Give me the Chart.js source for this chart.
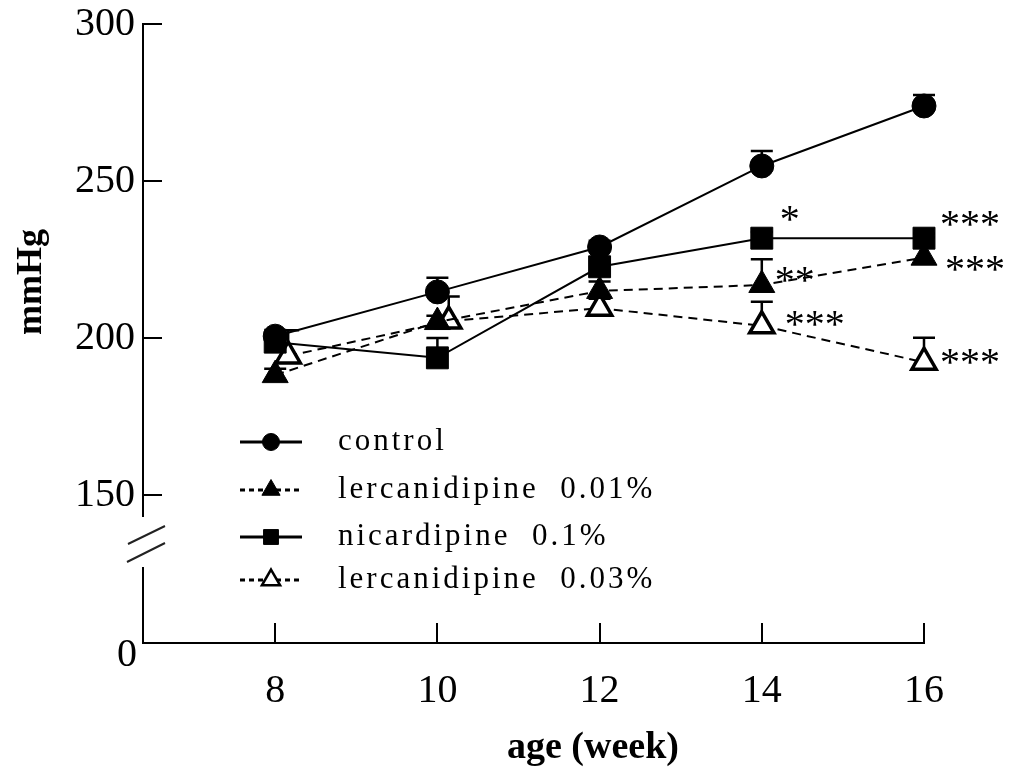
<!DOCTYPE html>
<html>
<head>
<meta charset="utf-8">
<title>Blood pressure by age</title>
<script src="https://cdn.jsdelivr.net/npm/chart.js"></script>
<style>
  html, body { margin: 0; padding: 0; background: #fff; }
  #wrap { width: 1011px; height: 771px; }
</style>
</head>
<body>
<div id="wrap"><canvas id="bp-chart"></canvas></div>
<script>
// values (mmHg, mean and one-sided SEM)
const weeks = [8, 10, 12, 14, 16];
// open triangles sit a bit to the right of the others at 8 and 10 weeks
const weeksLerc003 = [8.16, 10.14, 12, 14, 16];

const controlMean = [200.6, 214.7, 229.0, 254.8, 273.9];
const controlSem = [2.0, 4.5, 2.0, 4.8, 3.5];
const lerc001Mean = [188.2, 205.1, 215.0, 216.9, 225.6];
const lerc001Sem = [2.0, 2.0, 3.0, 8.2, 6.4];
const nicMean = [198.7, 193.7, 222.7, 231.8, 231.8];
const nicSem = [2.0, 6.3, 5.5, 2.0, 1.5];
const lerc003Mean = [194.3, 205.4, 209.5, 203.9, 192.3];
const lerc003Sem = [8.2, 7.8, 3.0, 7.7, 7.8];

// significance marks per point
const lerc001Sig = ["", "", "", "**", "***"];
const nicSig = ["", "", "", "*", "***"];
const lerc003Sig = ["", "", "", "***", "***"];

const upperTicks = [150, 200, 250, 300];
const lowerTicks = [0];
const xTicks = [8, 10, 12, 14, 16];

const seriesNames = [
  "control",
  "lercanidipine  0.01%",
  "nicardipine  0.1%",
  "lercanidipine  0.03%",
];

const FONT = '"Liberation Serif", "Times New Roman", serif';

// where the star labels go, relative to their point: "dataset-point": [dx, dy]
const sigOffsets = {
  "2-3": [18, -26],
  "2-4": [16, -21],
  "1-3": [13, -12],
  "1-4": [21, 5],
  "3-3": [23, -8],
  "3-4": [16, -7],
};

const toPoints = (xs, ys) => xs.map((x, i) => ({ x: x, y: ys[i] }));

function drawMarker(ctx, style, x, y, r) {
  ctx.beginPath();
  if (style === "circle") {
    ctx.arc(x, y, r, 0, Math.PI * 2);
  } else if (style === "rect") {
    const h = r * Math.SQRT1_2;
    ctx.rect(x - h, y - h, 2 * h, 2 * h);
  } else {
    ctx.moveTo(x, y - r);
    ctx.lineTo(x + r * 0.866, y + r * 0.5);
    ctx.lineTo(x - r * 0.866, y + r * 0.5);
    ctx.closePath();
  }
}

// one-sided error bars, drawn under the markers
const errorBars = {
  id: "errorBars",
  beforeDatasetsDraw(chart) {
    const ctx = chart.ctx;
    const yScale = chart.scales.y;
    ctx.save();
    ctx.strokeStyle = "#000";
    ctx.lineWidth = 2.5;
    chart.data.datasets.forEach((ds, i) => {
      const meta = chart.getDatasetMeta(i);
      meta.data.forEach((pt, j) => {
        const top = yScale.getPixelForValue(ds.data[j].y + ds.sem[j]);
        ctx.beginPath();
        ctx.moveTo(pt.x, pt.y);
        ctx.lineTo(pt.x, top);
        ctx.moveTo(pt.x - 11, top);
        ctx.lineTo(pt.x + 11, top);
        ctx.stroke();
      });
    });
    ctx.restore();
  },
};

// stars, legend, x title and the axis break
const decorations = {
  id: "decorations",
  afterDatasetsDraw(chart) {
    const ctx = chart.ctx;
    const size = 40;
    ctx.save();
    ctx.fillStyle = "#000";
    ctx.font = size + "px " + FONT;
    ctx.letterSpacing = "0px";
    ctx.textAlign = "left";
    ctx.textBaseline = "alphabetic";
    chart.data.datasets.forEach((ds, i) => {
      if (!ds.sig) return;
      const meta = chart.getDatasetMeta(i);
      ds.sig.forEach((txt, j) => {
        if (!txt) return;
        const off = sigOffsets[i + "-" + j] || [18, -10];
        const pt = meta.data[j];
        // asterisks sit high in the em box, so push the baseline down
        ctx.fillText(txt, pt.x + off[0], pt.y + off[1] + size * 0.49);
      });
    });
    ctx.restore();
  },
  afterDraw(chart) {
    const ctx = chart.ctx;
    const area = chart.chartArea;
    const split = chart.scales.y.bottom;

    // legend
    const rows = [442, 490, 537, 580];
    ctx.save();
    chart.data.datasets.forEach((ds, i) => {
      const y = rows[i];
      ctx.strokeStyle = "#000";
      ctx.lineWidth = 3;
      ctx.setLineDash(ds.borderDash && ds.borderDash.length ? [5, 4] : []);
      ctx.beginPath();
      ctx.moveTo(240, y);
      ctx.lineTo(302, y);
      ctx.stroke();
      ctx.setLineDash([]);
      const r = ds.pointStyle === "circle" ? 8.5 : 10.5;
      drawMarker(ctx, ds.pointStyle, 271, y, r);
      ctx.fillStyle = ds.pointBackgroundColor;
      ctx.fill();
      ctx.lineWidth = ds.pointBorderWidth > 2 ? 2.5 : 1;
      ctx.stroke();

      ctx.fillStyle = "#000";
      ctx.font = "31px " + FONT;
      ctx.letterSpacing = "3px";
      ctx.textAlign = "left";
      ctx.textBaseline = "middle";
      ctx.fillText(seriesNames[i], 338, y);
    });
    ctx.restore();

    // x axis title
    ctx.save();
    ctx.fillStyle = "#000";
    ctx.font = "bold 38px " + FONT;
    ctx.textAlign = "center";
    ctx.textBaseline = "middle";
    ctx.fillText("age (week)", 593, 748);
    ctx.restore();

    // axis break
    ctx.save();
    ctx.fillStyle = "#fff";
    ctx.fillRect(area.left - 5, split - 23, 10, 50);
    ctx.strokeStyle = "#222";
    ctx.lineWidth = 2;
    ctx.beginPath();
    ctx.moveTo(area.left - 15, split + 4);
    ctx.lineTo(area.left + 22, split - 14);
    ctx.moveTo(area.left - 16, split + 22);
    ctx.lineTo(area.left + 22, split + 3);
    ctx.stroke();
    ctx.restore();
  },
};

const fixLeft = (scale) => {
  scale.width = 143;
  scale.paddingTop = 0;
  scale.paddingBottom = 0;
};

const ctx = document.getElementById("bp-chart").getContext("2d");

new Chart(ctx, {
  type: "line",
  data: {
    datasets: [
      {
        label: seriesNames[0],
        data: toPoints(weeks, controlMean),
        sem: controlSem,
        borderColor: "#000",
        borderWidth: 2,
        pointStyle: "circle",
        pointRadius: 12,
        pointBackgroundColor: "#000",
        pointBorderColor: "#000",
        pointBorderWidth: 1,
        yAxisID: "y",
        clip: false,
      },
      {
        label: seriesNames[1],
        data: toPoints(weeks, lerc001Mean),
        sem: lerc001Sem,
        sig: lerc001Sig,
        borderColor: "#000",
        borderWidth: 2,
        borderDash: [9, 6],
        pointStyle: "triangle",
        pointRadius: 15,
        pointBackgroundColor: "#000",
        pointBorderColor: "#000",
        pointBorderWidth: 1,
        yAxisID: "y",
        clip: false,
      },
      {
        label: seriesNames[2],
        data: toPoints(weeks, nicMean),
        sem: nicSem,
        sig: nicSig,
        borderColor: "#000",
        borderWidth: 2,
        pointStyle: "rect",
        pointRadius: 15.5,
        pointBackgroundColor: "#000",
        pointBorderColor: "#000",
        pointBorderWidth: 1,
        yAxisID: "y",
        clip: false,
      },
      {
        label: seriesNames[3],
        data: toPoints(weeksLerc003, lerc003Mean),
        sem: lerc003Sem,
        sig: lerc003Sig,
        borderColor: "#000",
        borderWidth: 2,
        borderDash: [9, 6],
        pointStyle: "triangle",
        pointRadius: 14,
        pointBackgroundColor: "#fff",
        pointBorderColor: "#000",
        pointBorderWidth: 3.5,
        yAxisID: "y",
        clip: false,
      },
    ],
  },
  options: {
    responsive: true,
    maintainAspectRatio: false,
    animation: false,
    events: [],
    layout: { padding: { top: 24, right: 87, bottom: 0, left: 0 } },
    plugins: {
      legend: { display: false },
      tooltip: { enabled: false },
    },
    scales: {
      x: {
        type: "linear",
        min: 6.37,
        max: 16,
        afterBuildTicks: (scale) => {
          scale.ticks = xTicks.map((v) => ({ value: v }));
        },
        afterFit: (scale) => {
          scale.height = 128;
          scale.paddingLeft = 0;
          scale.paddingRight = 0;
        },
        border: { color: "#000", width: 2 },
        grid: {
          drawOnChartArea: false,
          color: "#000",
          lineWidth: 2,
          tickLength: -20,
        },
        ticks: {
          color: "#000",
          padding: 44,
          maxRotation: 0,
          font: { family: FONT, size: 40 },
        },
      },
      yLow: {
        type: "linear",
        position: "left",
        stack: "left",
        stackWeight: 103,
        weight: 0,
        min: 0,
        max: 10,
        afterBuildTicks: (scale) => {
          scale.ticks = lowerTicks.map((v) => ({ value: v }));
        },
        afterFit: fixLeft,
        border: { color: "#000", width: 2 },
        grid: { drawOnChartArea: false, drawTicks: false },
        ticks: {
          color: "#000",
          padding: 6,
          labelOffset: 12,
          font: { family: FONT, size: 40 },
        },
      },
      y: {
        type: "linear",
        position: "left",
        stack: "left",
        stackWeight: 516,
        weight: 1,
        min: 135.7,
        max: 300,
        afterBuildTicks: (scale) => {
          scale.ticks = upperTicks.map((v) => ({ value: v }));
        },
        afterFit: fixLeft,
        border: { color: "#000", width: 2 },
        grid: {
          drawOnChartArea: false,
          color: "#000",
          lineWidth: 2,
          tickLength: -19,
        },
        ticks: {
          color: "#000",
          padding: 27,
          font: { family: FONT, size: 40 },
        },
        title: {
          display: true,
          text: "mmHg",
          color: "#000",
          padding: { top: 10, bottom: 0 },
          font: { family: FONT, size: 36, weight: "bold" },
        },
      },
    },
  },
  plugins: [errorBars, decorations],
});
</script>
</body>
</html>
